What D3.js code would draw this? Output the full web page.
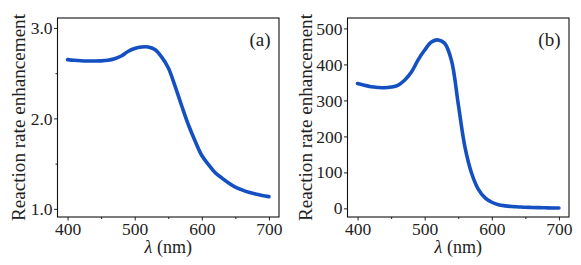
<!DOCTYPE html>
<html>
<head>
<meta charset="utf-8">
<script src="https://cdn.jsdelivr.net/npm/d3@7"></script>
<style>
  body { margin: 0; background: #fff; }
</style>
</head>
<body>
<svg width="581" height="265"></svg>
<script>
// wavelength grid (nm)
let wavelength = [400, 410, 420, 430, 440, 450, 460, 470, 480, 490, 500, 510, 520, 530, 540, 550,
                  560, 570, 580, 590, 600, 610, 620, 630, 640, 650, 660, 670, 680, 690, 700];

// panel (a)
let enhanceA = [2.65, 2.643, 2.638, 2.635, 2.634, 2.636, 2.643, 2.66, 2.69, 2.74, 2.772, 2.789, 2.79, 2.762,
                2.68, 2.56, 2.36, 2.14, 1.93, 1.75, 1.59, 1.49, 1.40, 1.34, 1.287, 1.24, 1.21, 1.183,
                1.165, 1.148, 1.135];

// panel (b)
let enhanceB = [347, 342, 338, 336, 335, 337, 342, 356, 378, 412, 440, 462, 468, 458, 410, 290,
                170, 97, 53, 29, 17, 10, 7, 5, 4, 3, 2.5, 2, 1.5, 1.2, 1];

let xTicks = [400, 500, 600, 700];
let xMinor = [450, 550, 650];
let yTicksA = [1.0, 2.0, 3.0];
let yMinorA = [1.5, 2.5];
let yTicksB = [0, 100, 200, 300, 400, 500];

const svg = d3.select('svg');
const lineColor = '#1450c2';
const serif = 'Liberation Serif';
const ink = '#222';

const panels = [
  { left: 57.5, right: 279, values: enhanceA, yDomain: [0.91, 3.11], yTicks: yTicksA, yMinor: yMinorA,
    fmt: d3.format('.1f'), tag: '(a)', labelX: 25 },
  { left: 347.5, right: 569, values: enhanceB, yDomain: [-24, 529], yTicks: yTicksB, yMinor: [],
    fmt: d3.format('d'), tag: '(b)', labelX: 312 }
];
let plotTop = 18, plotBottom = 217;

panels.forEach(p => {
  let x = d3.scaleLinear().domain([385, 715]).range([p.left, p.right]);
  let y = d3.scaleLinear().domain(p.yDomain).range([plotBottom, plotTop]);
  let g = svg.append('g');

  // x axis
  g.append('g').attr('transform', `translate(0,${plotBottom})`)
    .call(d3.axisBottom(x).tickValues(xTicks).tickSize(3.5).tickPadding(2));
  g.append('g').attr('transform', `translate(0,${plotBottom})`)
    .call(d3.axisBottom(x).tickValues(xMinor).tickSize(2).tickFormat(''));

  // y axis
  g.append('g').attr('transform', `translate(${p.left},0)`)
    .call(d3.axisLeft(y).tickValues(p.yTicks).tickSize(3.5).tickPadding(1.5).tickFormat(p.fmt));
  if (p.yMinor.length) {
    g.append('g').attr('transform', `translate(${p.left},0)`)
      .call(d3.axisLeft(y).tickValues(p.yMinor).tickSize(2).tickFormat(''));
  }
  g.selectAll('g').attr('font-family', serif).attr('font-size', 17.5);
  g.selectAll('.tick text').attr('fill', ink).attr('font-family', serif);
  g.selectAll('.domain').remove();
  g.selectAll('.tick line').attr('stroke', ink);

  // frame
  g.append('rect')
    .attr('x', p.left).attr('y', plotTop)
    .attr('width', p.right - p.left).attr('height', plotBottom - plotTop)
    .attr('fill', 'none').attr('stroke', '#111').attr('stroke-width', 1.1);

  // curve
  g.append('path')
    .datum(wavelength.map((w, i) => [w, p.values[i]]))
    .attr('fill', 'none')
    .attr('stroke', lineColor)
    .attr('stroke-width', 3.6)
    .attr('stroke-linecap', 'round')
    .attr('d', d3.line().x(d => x(d[0])).y(d => y(d[1])).curve(d3.curveCatmullRom.alpha(0.5)));

  // tag
  g.append('text')
    .attr('x', p.right - 8.5).attr('y', 46)
    .attr('text-anchor', 'end').attr('font-size', 19)
    .attr('font-family', serif).attr('fill', ink)
    .text(p.tag);

  // x label
  let xl = g.append('text')
    .attr('x', (p.left + p.right) / 2).attr('y', 252.5)
    .attr('text-anchor', 'middle').attr('font-size', 18)
    .attr('font-family', serif).attr('fill', ink);
  xl.append('tspan').attr('font-style', 'italic').text('λ');
  xl.append('tspan').text(' (nm)');

  // y label
  g.append('text')
    .attr('transform', `translate(${p.labelX},${(plotTop + plotBottom) / 2}) rotate(-90)`)
    .attr('text-anchor', 'middle').attr('font-size', 18)
    .attr('font-family', serif).attr('fill', ink)
    .attr('textLength', 207).attr('lengthAdjust', 'spacingAndGlyphs')
    .text('Reaction rate enhancement');
});
</script>
</body>
</html>
